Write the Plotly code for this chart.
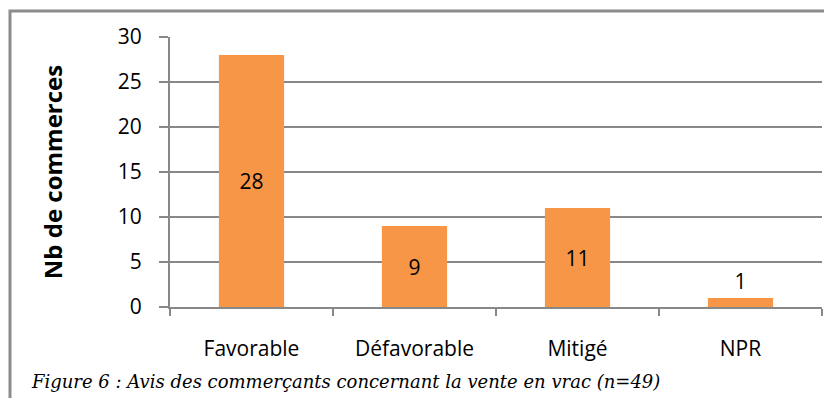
import plotly.graph_objects as go

categories = ["Favorable", "Défavorable", "Mitigé", "NPR"]
values = [28, 9, 11, 1]
label_positions = ["inside", "inside", "inside", "outside"]
y_ticks = [0, 5, 10, 15, 20, 25, 30]

W, H = 824, 398
L, R, T, B = 170, 2, 37, 91
pw, ph = W - L - R, H - T - B

def px_x(px):
    return (px - L) / pw

def px_y(py):
    return (H - B - py) / ph

FONT = "Open Sans, DejaVu Sans, sans-serif"
GRID = "#888888"

fig = go.Figure(go.Bar(
    x=categories, y=values, text=[str(v) for v in values],
    textposition=label_positions, insidetextanchor="middle",
    textfont=dict(family=FONT, size=21, color="#000000"),
    marker=dict(color="#F79646", line=dict(width=0)),
    width=0.4, cliponaxis=False,
))

fig.update_layout(
    width=W, height=H, margin=dict(l=L, r=R, t=T, b=B),
    paper_bgcolor="white", plot_bgcolor="white", showlegend=False,
    font=dict(family=FONT, color="#000000"),
    xaxis=dict(
        type="category", tickson="boundaries", ticks="outside", ticklen=7,
        tickcolor=GRID, tickwidth=2, showline=True, linecolor=GRID, linewidth=2,
        showgrid=False, tickfont=dict(size=21, color="#000000"), ticklabelstandoff=22,
        range=[-0.5, 3.5],
    ),
    yaxis=dict(
        range=[0, 30], tickvals=y_ticks, ticks="outside", ticklen=9,
        tickcolor=GRID, tickwidth=2, showline=True, linecolor=GRID, linewidth=2,
        showgrid=True, gridcolor=GRID, gridwidth=2, zeroline=False,
        tickfont=dict(size=21, color="#000000"), ticklabelstandoff=13,
        title=dict(text="<b>Nb de commerces</b>", font=dict(size=24, color="#000000"), standoff=48),
    ),
    shapes=[dict(
        type="rect", xref="paper", yref="paper",
        x0=px_x(10), x1=px_x(830), y0=px_y(405), y1=px_y(11),
        line=dict(color="#8c8c8c", width=3), fillcolor="rgba(0,0,0,0)", layer="below",
    )],
    annotations=[dict(
        text="<i>Figure 6 : Avis des commerçants concernant la vente en vrac (n=49)</i>",
        xref="paper", yref="paper", x=px_x(29), y=px_y(381),
        xanchor="left", yanchor="middle", showarrow=False,
        font=dict(family="DejaVu Serif, Liberation Serif, serif", size=18, color="#000000"),
    )],
)

fig.write_html("out.html")
